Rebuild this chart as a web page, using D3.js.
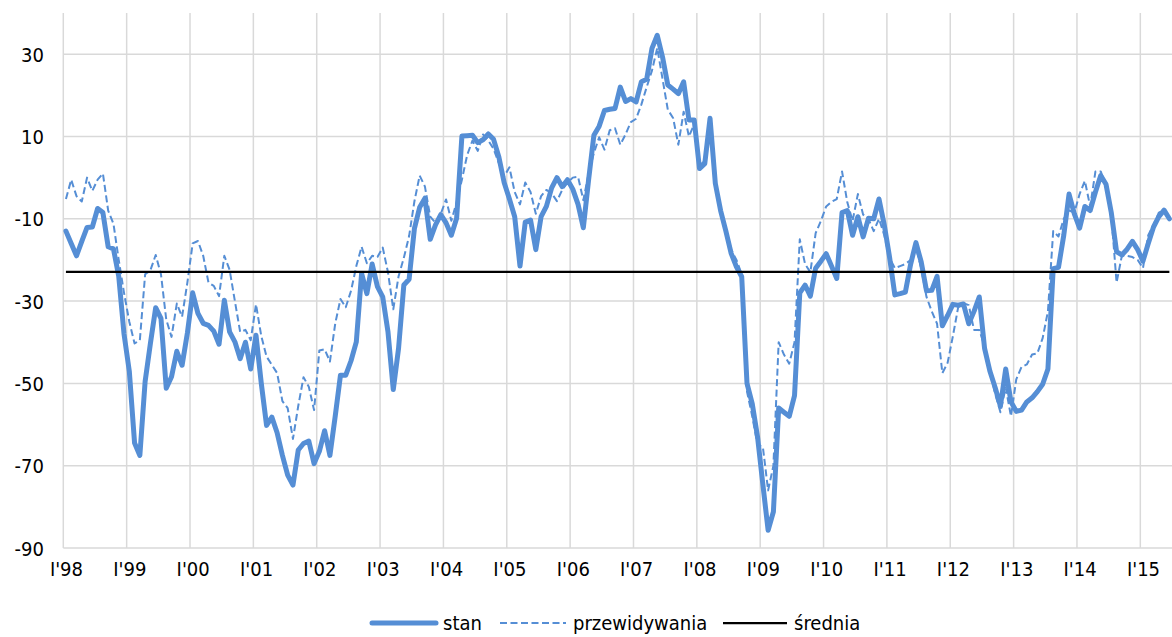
<!DOCTYPE html>
<html>
<head>
<meta charset="utf-8">
<script src="https://cdn.jsdelivr.net/npm/d3@7"></script>
<style>
  html, body { margin: 0; padding: 0; background: #fff; }
  text { font-family: "DejaVu Sans Condensed", "DejaVu Sans", sans-serif; fill: #000; }
</style>
</head>
<body>
<div id="chart"></div>
<script>
// monthly, Jan 1998 - Jun 2015
let stan = [
  -13, -16, -19, -15.5, -12.1, -12, -7.5, -8.5, -16.8, -17.3, -24, -38,
  -47, -64.5, -67.5, -49.5, -40.3, -31.6, -34.2, -51.2, -48.4, -42.2, -45.6, -37.8,
  -28, -33, -35.4, -35.9, -37.3, -40.5, -29.8, -37.5, -39.9, -44, -40, -46.5,
  -38.3, -50, -60.2, -58.2, -62, -67.5, -72.3, -74.7, -66.2, -64.6, -64, -69.5,
  -66.5, -61.5, -67.5, -58, -48, -48, -44.5, -39.9, -23.3, -28.2, -21, -26.5,
  -29, -37.5, -51.5, -41.5, -26.1, -24.7, -12.4, -7.2, -5, -15, -11.5, -9,
  -11, -14, -9.9, 10.1, 10.2, 10.3, 8.5, 9.2, 10.6, 9.3, 5, -1.2,
  -5.2, -9.5, -21.5, -10.8, -10.3, -17.5, -9.5, -7, -2.5, 0, -2.2, -0.5,
  -2.8, -6.5, -12.2, -0.5, 10.3, 12.5, 16.3, 16.6, 16.8, 22, 18.5, 19.2,
  18.4, 23.3, 23.9, 31.4, 34.6, 29.3, 22.5, 21.5, 20.4, 23.3, 14, 14,
  2.2, 3.4, 14.4, -1.4, -8, -13, -18.4, -21.7, -24.1, -50, -55, -63,
  -74.5, -85.7, -81.2, -56, -57, -58, -53, -28, -26.1, -28.8, -22, -20.3,
  -18.5, -21.5, -24.5, -8.5, -8, -14, -9.5, -14.4, -9.9, -10, -5.2, -11.5,
  -19.3, -28.5, -28.2, -27.8, -21, -15.8, -20.5, -27.5, -27.4, -24, -36, -33.5,
  -30.8, -31, -30.7, -35.5, -32.5, -29, -41.5, -47, -51, -55.5, -46.5, -54.5,
  -56.8, -56.5, -54.5, -53.5, -52, -50.2, -46.5, -22.1, -21.8, -14, -4, -8.8,
  -12.3, -7, -8, -3.5, 0.5, -1.6, -8.5, -18, -18.8, -17.4, -15.5, -17.5,
  -20.3, -16, -12, -9.5, -7.9, -10
];

let przewidywania = [
  -5.2, -0.5, -4.5, -5.8, 0, -3.2, -0.5, 1, -8, -11.2, -20, -28,
  -35, -40.3, -39.5, -23.5, -22.5, -18.8, -23.5, -34.5, -38.7, -30.6, -33.8, -25.5,
  -16, -15.4, -19, -25.5, -26.3, -28.8, -19, -22.4, -30, -37.5, -37, -39.5,
  -30.8, -38.5, -43.5, -45.5, -47.5, -54.3, -56, -63.5, -55.5, -48.5, -50.8, -56.5,
  -42, -41.7, -44.7, -35.5, -29.5, -31.5, -27.5, -21.5, -16.8, -20.8, -19, -19.3,
  -17, -23, -32, -24, -19.5, -14.2, -5.8, 0.5, -2.2, -9.5, -11, -8.8,
  -5.3, -10.5, -6, -0.5, 5.5, 9, 6.5, 10.5, 9, 7, 3.5, 0.3,
  2.5, -3.5, -6.5, -1.2, -3.5, -8.8, -4.5, -3, -3.8, -5.7, -3, -1.2,
  0, 0.2, -5.5, 1, 6, 9.8, 6.8, 11.5, 12, 8, 10.5, 13.5,
  14.3, 17.8, 22, 26, 31.5, 24, 16.5, 14.5, 8, 16, 10, 13,
  3, 4, 13, -1, -7.5, -12.5, -17.5, -20, -23.5, -52, -58, -65,
  -65.4, -76, -70, -40, -43, -45.2, -40, -15, -21, -23, -13.5, -10.5,
  -7, -5.9, -5.2, 1.5, -6, -10.5, -4, -9, -10, -13, -10, -14,
  -19.5, -22, -21.5, -21, -20, -17, -22, -29, -32.5, -35.5, -47.5, -45,
  -38.5, -31.5, -30.5, -31, -37, -37, -41, -47, -52.5, -57, -51, -58,
  -49, -46, -45.4, -43, -42.7, -39, -32.5, -13, -14.3, -10, -8, -8.5,
  -4, -0.8, -7, 1.5, 1.5, -2, -9, -25.5, -19, -19, -19.3, -20,
  -22, -14, -11.5, -8.5, -8, -10
];

let srednia = -22.9;

let yearLabels = ["I'98", "I'99", "I'00", "I'01", "I'02", "I'03", "I'04", "I'05", "I'06",
  "I'07", "I'08", "I'09", "I'10", "I'11", "I'12", "I'13", "I'14", "I'15"];
let yTicks = [-90, -70, -50, -30, -10, 10, 30];
let legendNames = ["stan", "przewidywania", "średnia"];

let width = 1172;
let height = 637;
let margin = {top: 13, right: 0, bottom: 89, left: 63.3};
let blue = "#558ed5";
let gridColor = "#d9d9d9";
let fontFamily = "'DejaVu Sans Condensed', 'DejaVu Sans', sans-serif";

let svg = d3.select("#chart").append("svg")
  .attr("width", width)
  .attr("height", height);

let x = d3.scaleLinear()
  .domain([-0.5, stan.length - 0.5])
  .range([margin.left, width - margin.right]);

let y = d3.scaleLinear()
  .domain([-90, 40])
  .range([height - margin.bottom, margin.top]);

// horizontal grid
svg.append("g")
  .selectAll("line")
  .data(yTicks)
  .enter().append("line")
  .attr("x1", margin.left)
  .attr("x2", width - margin.right)
  .attr("y1", function(d){ return y(d); })
  .attr("y2", function(d){ return y(d); })
  .attr("stroke", gridColor)
  .attr("stroke-width", 1.5);

// vertical grid at year boundaries
svg.append("g")
  .selectAll("line")
  .data(yearLabels)
  .enter().append("line")
  .attr("x1", function(d, i){ return x(i * 12 - 0.5); })
  .attr("x2", function(d, i){ return x(i * 12 - 0.5); })
  .attr("y1", y(40))
  .attr("y2", y(-90))
  .attr("stroke", gridColor)
  .attr("stroke-width", 1.5);

// y axis labels (plain hyphen for negatives, as in the original)
let yAxis = svg.append("g")
  .attr("transform", "translate(44,0)")
  .call(d3.axisLeft(y)
    .tickValues(yTicks)
    .tickFormat(function(d){ return String(d); })
    .tickSize(0)
    .tickPadding(0));
yAxis.select(".domain").remove();
yAxis.selectAll("text")
  .style("font-size", "20px")
  .attr("dy", "0.35em")
  .style("font-family", fontFamily);

// x axis labels (at January of each year)
let xAxis = svg.append("g")
  .attr("transform", "translate(0," + y(-90) + ")")
  .call(d3.axisBottom(x)
    .tickValues(yearLabels.map(function(d, i){ return i * 12; }))
    .tickFormat(function(d){ return yearLabels[d / 12]; })
    .tickSize(0)
    .tickPadding(14));
xAxis.select(".domain").remove();
xAxis.selectAll("text")
  .style("font-size", "20px")
  .style("font-family", fontFamily);

let line = d3.line()
  .x(function(d, i){ return x(i); })
  .y(function(d){ return y(d); });

svg.append("path")
  .datum(stan)
  .attr("d", line)
  .attr("fill", "none")
  .attr("stroke", blue)
  .attr("stroke-width", 5)
  .attr("stroke-linejoin", "round")
  .attr("stroke-linecap", "round");

svg.append("path")
  .datum(przewidywania)
  .attr("d", line)
  .attr("fill", "none")
  .attr("stroke", blue)
  .attr("stroke-width", 2)
  .attr("stroke-dasharray", "7,3.5")
  .attr("stroke-linejoin", "round");

svg.append("line")
  .attr("x1", x(0))
  .attr("x2", x(stan.length - 1))
  .attr("y1", y(srednia))
  .attr("y2", y(srednia))
  .attr("stroke", "#000")
  .attr("stroke-width", 2.25);

// legend
let legendY = 623;
let legendItems = [
  {name: legendNames[0], x0: 372, x1: 436, tx: 443, width: 5, dash: null, color: blue, cap: "round"},
  {name: legendNames[1], x0: 500, x1: 566, tx: 573, width: 2, dash: "7,3.5", color: blue, cap: "butt"},
  {name: legendNames[2], x0: 723, x1: 787, tx: 794, width: 2.25, dash: null, color: "#000", cap: "butt"}
];
let legend = svg.append("g");
legend.selectAll("line")
  .data(legendItems)
  .enter().append("line")
  .attr("x1", function(d){ return d.x0; })
  .attr("x2", function(d){ return d.x1; })
  .attr("y1", legendY)
  .attr("y2", legendY)
  .attr("stroke", function(d){ return d.color; })
  .attr("stroke-width", function(d){ return d.width; })
  .attr("stroke-linecap", function(d){ return d.cap; })
  .attr("stroke-dasharray", function(d){ return d.dash; });
legend.selectAll("text")
  .data(legendItems)
  .enter().append("text")
  .attr("x", function(d){ return d.tx; })
  .attr("y", legendY)
  .attr("dy", "0.35em")
  .style("font-size", "20px")
  .text(function(d){ return d.name; });
</script>
</body>
</html>
